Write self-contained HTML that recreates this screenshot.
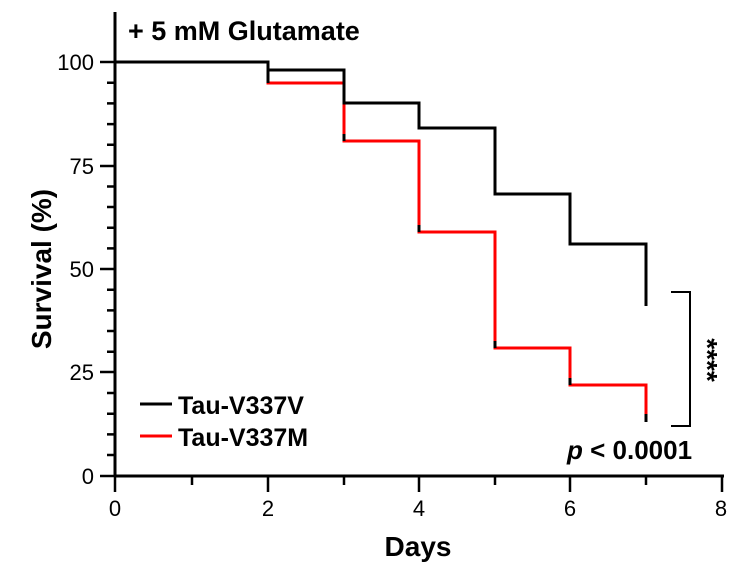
<!DOCTYPE html><html><head><style>body{margin:0;background:#fff}svg{display:block}text{font-family:"Liberation Sans",Arial,sans-serif}</style></head><body>
<svg width="746" height="569" viewBox="0 0 746 569">
<text x="128" y="40" font-size="27" font-weight="bold">+ 5 mM Glutamate</text>
<g stroke="#000" stroke-width="3" fill="none">
<line x1="115" y1="12" x2="115" y2="477"/>
<line x1="114" y1="476" x2="724" y2="476"/>
<g stroke-width="2.5">
<line x1="100" y1="62" x2="115" y2="62"/><line x1="100" y1="166" x2="115" y2="166"/><line x1="100" y1="269" x2="115" y2="269"/><line x1="100" y1="372" x2="115" y2="372"/><line x1="100" y1="476" x2="115" y2="476"/>
<path d="M107 82.7H115M107 103.4H115M107 124.1H115M107 144.8H115M107 186.5H115M107 207H115M107 227.7H115M107 248.4H115M107 289.7H115M107 310.4H115M107 331H115M107 351.7H115M107 393H115M107 413.7H115M107 434.4H115M107 455H115"/>
<path d="M115 476V492M268 476V492M419 476V492M570 476V492M722 476V492M192 476V485M344 476V485M495 476V485M646 476V485"/>
</g>
<path stroke="#ff0000" d="M115 62H268V83H344V141H419V232H495V348H570V385H646V422"/>
<path d="M115 62H268V70H344V103H419V128H495V194H570V244H646V306"/>
<path stroke-width="2" d="M671 292H690V426H671"/>
<line x1="140" y1="404" x2="172" y2="404"/>
<line x1="140" y1="436" x2="172" y2="436" stroke="#ff0000"/>
</g>
<g stroke="#000" stroke-width="3"><path d="M268 70V83M344 134V141M419 225V232M495 341V348M570 378V385M646 299V306M646 414V422"/></g>
<g font-size="22" text-anchor="end"><text x="94" y="70">100</text><text x="94" y="174">75</text><text x="94" y="277">50</text><text x="94" y="380">25</text><text x="94" y="484">0</text></g>
<g font-size="22" text-anchor="middle"><text x="115" y="516">0</text><text x="268" y="516">2</text><text x="419" y="516">4</text><text x="570" y="516">6</text><text x="721" y="516">8</text></g>
<text x="418" y="556" font-size="28" font-weight="bold" text-anchor="middle">Days</text>
<text transform="translate(51 269) rotate(-90)" font-size="28" font-weight="bold" text-anchor="middle">Survival (%)</text>
<text x="178" y="414" font-size="25" font-weight="bold">Tau-V337V</text>
<text x="178" y="446" font-size="25" font-weight="bold">Tau-V337M</text>
<text transform="translate(698 360) rotate(90)" font-size="28" font-weight="bold" text-anchor="middle">****</text>
<text x="567" y="459" font-size="26" font-weight="bold"><tspan font-style="italic">p</tspan> &lt; 0.0001</text>
</svg></body></html>
